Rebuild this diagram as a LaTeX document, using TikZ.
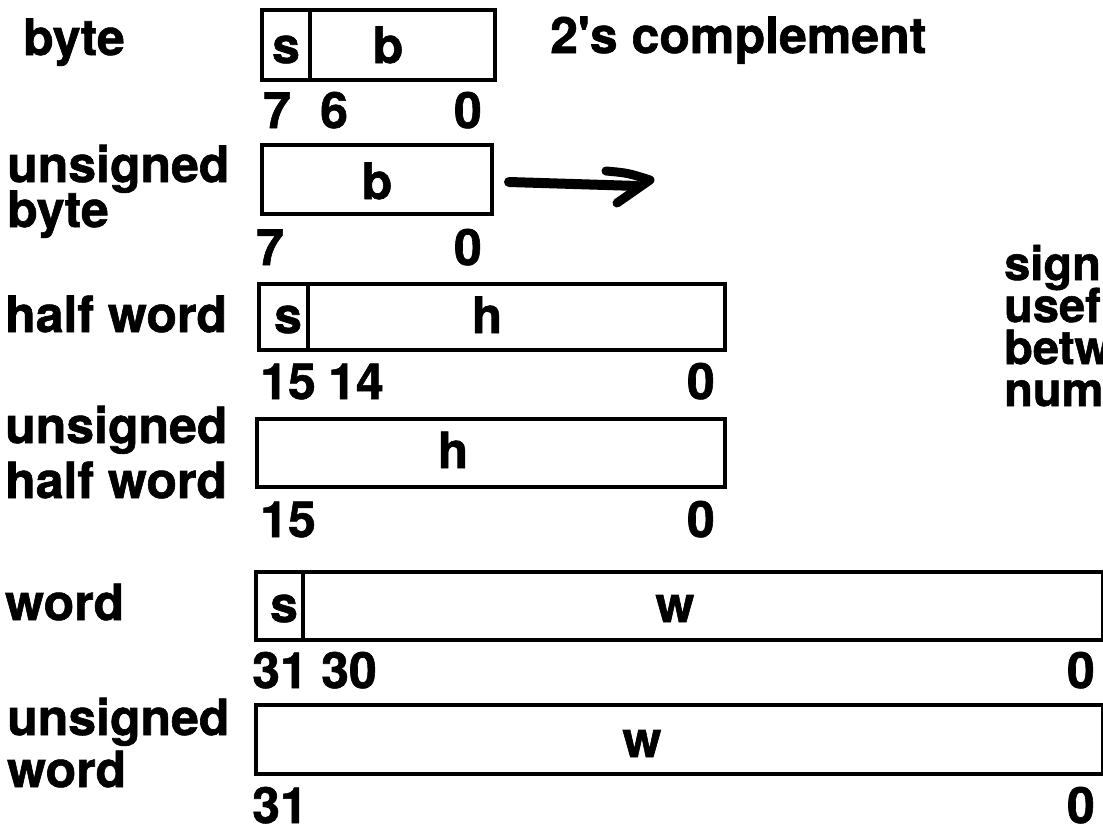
\documentclass[tikz,border=0pt]{standalone}
\usepackage{fontspec}
\setmainfont{TeX Gyre Heros}[BoldFeatures={FakeBold=1.2}]
\begin{document}
\begin{tikzpicture}[x=1pt,y=-1pt,
  txt/.style={font=\fontsize{50}{50}\selectfont\bfseries, inner sep=0pt, anchor=base west},
  side/.style={font=\fontsize{47}{47}\selectfont\bfseries, inner sep=0pt, anchor=base west},
  ltr/.style={font=\fontsize{50}{50}\selectfont\bfseries, inner sep=0pt, anchor=base},
  numl/.style={font=\fontsize{50}{50}\selectfont\bfseries, inner sep=0pt, anchor=base west},
  numr/.style={font=\fontsize{50}{50}\selectfont\bfseries, inner sep=0pt, anchor=base east},
  fld/.style={draw, line width=3.5pt, inner sep=0pt, anchor=north west},
  ln/.style={line width=3.5pt},
  hand/.style={line width=9pt, line cap=round, line join=round}]
\useasboundingbox (0,0) rectangle (1103,835);
\clip (0,0) rectangle (1103,835);

% left labels
\node[txt] (Lbyte) at (23,55) {byte};
\node[txt] (Lub1) at (7,182) {unsigned};
\node[txt] (Lub2) at (7,227) {byte};
\node[txt] (Lhw) at (5,332) {half word};
\node[txt] (Luh1) at (5,443) {unsigned};
\node[txt] (Luh2) at (5,498) {half word};
\node[txt] (Lw) at (5,620) {word};
\node[txt] (Luw1) at (7,735) {unsigned};
\node[txt] (Luw2) at (7,787) {word};
\node[txt] (comp) at (550,53) {2\textquotesingle s complement};

% right side text (cut at the edge)
\node[side] (r1) at (1004,280) {sign};
\node[side] (r2) at (1004,322) {usef};
\node[side] (r3) at (1004,364) {betw};
\node[side] (r4) at (1004,406) {num};

% fields
\node[fld, minimum width=233, minimum height=70] (B1) at (260,8) {};
\draw[ln] (310,8) -- (310,78);
\node[ltr] (B1s) at (286,63) {s};
\node[ltr] (B1b) at (388,63) {b};
\node[numl] (n1a) at (263,128) {7};
\node[numl] (n1b) at (320,128) {6};
\node[numr] (n1c) at (482,128) {0};

\node[fld, minimum width=230, minimum height=69] (B2) at (260,143) {};
\node[ltr] (B2b) at (377,199) {b};
\node[numl] (n2a) at (256,265) {7};
\node[numr] (n2c) at (482,265) {0};

\node[fld, minimum width=466, minimum height=66] (B3) at (257,282) {};
\draw[ln] (308,282) -- (308,348);
\node[ltr] (B3s) at (288,333) {s};
\node[ltr] (B3h) at (487,333) {h};
\node[numl] (n3a) at (260,399) {15};
\node[numl] (n3b) at (328,399) {14};
\node[numr] (n3c) at (715,399) {0};

\node[fld, minimum width=468, minimum height=68] (B4) at (255,417) {};
\node[ltr] (B4h) at (453,468) {h};
\node[numl] (n4a) at (260,537) {15};
\node[numr] (n4c) at (715,537) {0};

\node[fld, minimum width=847, minimum height=68] (B5) at (254,570) {};
\draw[ln] (303,570) -- (303,638);
\node[ltr] (B5s) at (284,622) {s};
\node[ltr] (B5w) at (675,622) {w};
\node[numl] (n5a) at (252,688) {31};
\node[numl] (n5b) at (321,688) {30};
\node[numr] (n5c) at (1095,688) {0};

\node[fld, minimum width=847, minimum height=69] (B6) at (254,703) {};
\node[ltr] (B6w) at (642,757) {w};
\node[numl] (n6a) at (252,823) {31};
\node[numr] (n6c) at (1095,823) {0};

% hand-drawn arrow
\coordinate (aS) at (509,182);
\coordinate (aE) at (638,186);
\coordinate (aU) at (606,171);
\coordinate (aT) at (650,180);
\coordinate (aL) at (617,203);
\draw[hand, line width=10pt] (aS) -- (aE);
\draw[hand] (aU) .. controls (628,173) .. (aT) -- (aL);
\end{tikzpicture}
\end{document}
